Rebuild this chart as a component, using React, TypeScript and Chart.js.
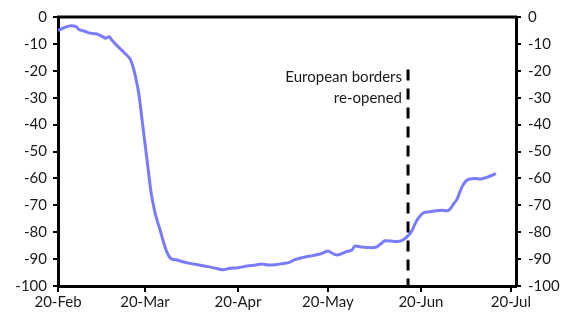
import React, { useEffect, useRef } from "react";
import { Chart, registerables } from "chart.js";

Chart.register(...registerables);

const tickDays = [0, 29, 60, 90, 121, 151];
const tickLabels = ["20-Feb", "20-Mar", "20-Apr", "20-May", "20-Jun", "20-Jul"];

const days = [0, 2, 4, 6, 7, 9, 10, 12, 13, 14, 15, 16, 17, 18, 20, 22, 24, 25, 26, 27, 28, 29, 30, 31, 32, 33, 34, 35, 36, 37, 38, 40, 41, 44, 47, 50, 53, 55, 57, 60, 63, 66, 68, 70, 73, 75, 77, 79, 82, 85, 87, 89, 90, 93, 96, 98, 99, 101, 103, 106, 108, 109, 111, 113, 115, 117, 118, 119, 120, 122, 124, 126, 128, 130, 131, 132, 133, 134, 135, 136, 137, 139, 141, 143, 144, 146];
const values = [-5, -4, -3.3, -3.6, -4.7, -5.3, -5.8, -6.2, -6.3, -6.8, -7.4, -7.9, -7.3, -8.6, -11, -13.2, -15.5, -18.5, -23, -29, -38, -47, -56, -65, -71, -75.5, -79, -83, -86.5, -89, -90, -90.4, -90.8, -91.6, -92.2, -92.8, -93.5, -94, -93.5, -93.2, -92.6, -92.2, -91.8, -92.2, -92, -91.6, -91.3, -90.2, -89.3, -88.7, -88.2, -87.4, -87, -88.5, -87.3, -86.6, -85.2, -85.5, -85.7, -85.6, -84, -83.2, -83.3, -83.5, -82.9, -81, -79.5, -77, -75, -72.7, -72.4, -72, -71.8, -72, -71, -69.3, -67.8, -65, -62.5, -61, -60.3, -60, -60.2, -59.6, -59.2, -58.2];

const yTicks = [0, -10, -20, -30, -40, -50, -60, -70, -80, -90, -100];
const borderDay = 116.7;
const borderTop = -19.5;
const annotationLines = ["European borders", "re-opened"];

const FONT = "Lato";

export default function App() {
  const ref = useRef<HTMLCanvasElement>(null);
  useEffect(() => {
    document.body.style.margin = "0";
    const canvas = ref.current!;
    const overlay = {
      id: "overlay",
      afterDatasetsDraw(chart: any) {
        const ctx = chart.ctx;
        const { left, right, top } = chart.chartArea;
        const x = chart.scales.x.getPixelForValue(borderDay);
        const yTop = chart.scales.y.getPixelForValue(borderTop);
        const yBot = chart.scales.y.getPixelForValue(-100);
        ctx.save();
        ctx.strokeStyle = "#000";
        ctx.lineWidth = 3;
        ctx.beginPath();
        ctx.moveTo(left - 1, top);
        ctx.lineTo(right + 1, top);
        ctx.stroke();
        ctx.setLineDash([11, 8]);
        ctx.beginPath();
        ctx.moveTo(x, yTop);
        ctx.lineTo(x, yBot);
        ctx.stroke();
        ctx.setLineDash([]);
        ctx.fillStyle = "#1a1a1a";
        ctx.font = `15px ${FONT}`;
        ctx.textAlign = "right";
        ctx.textBaseline = "middle";
        annotationLines.forEach((t, i) => ctx.fillText(t, x - 6, 77 + i * 21));
        ctx.restore();
      },
    };
    const tickFont = { family: FONT, size: 15 };
    const chart = new Chart(canvas, {
      type: "line",
      data: {
        datasets: [
          {
            data: days.map((d, i) => ({ x: d, y: values[i] })),
            borderColor: "#7b7bff",
            borderWidth: 3,
            pointRadius: 0,
            tension: 0.3,
            fill: false,
          },
        ],
      },
      options: {
        animation: false,
        responsive: false,
        maintainAspectRatio: false,
        layout: { padding: { top: 17, left: 0, right: 0, bottom: 0 } },
        plugins: { legend: { display: false }, tooltip: { enabled: false } },
        scales: {
          x: {
            type: "linear",
            min: 0,
            max: 152.7,
            afterBuildTicks: (s: any) => {
              s.ticks = tickDays.map((v) => ({ value: v }));
            },
            afterFit: (s: any) => {
              s.height = 32;
            },
            ticks: {
              autoSkip: false,
              maxRotation: 0,
              padding: 1,
              color: "#1a1a1a",
              font: tickFont,
              callback: (v: any) => tickLabels[tickDays.indexOf(Number(v))] ?? "",
            },
            grid: { drawOnChartArea: false, drawTicks: true, tickLength: 6, color: "#000", lineWidth: 2 },
            border: { display: true, color: "#000", width: 3 },
          },
          y: {
            position: "left",
            min: -100,
            max: 0,
            afterBuildTicks: (s: any) => {
              s.ticks = yTicks.map((v) => ({ value: v }));
            },
            afterFit: (s: any) => {
              s.width = 58;
            },
            ticks: { padding: 6, color: "#1a1a1a", font: tickFont },
            grid: { drawOnChartArea: false, drawTicks: true, tickLength: 5, color: "#000", lineWidth: 2 },
            border: { display: true, color: "#000", width: 3 },
          },
          y2: {
            position: "right",
            min: -100,
            max: 0,
            afterBuildTicks: (s: any) => {
              s.ticks = yTicks.map((v) => ({ value: v }));
            },
            afterFit: (s: any) => {
              s.width = 58;
            },
            ticks: { padding: 7, color: "#1a1a1a", font: tickFont },
            grid: { drawOnChartArea: false, drawTicks: true, tickLength: 5, color: "#000", lineWidth: 2 },
            border: { display: true, color: "#000", width: 3 },
          },
        },
      },
      plugins: [overlay],
    });
    return () => chart.destroy();
  }, []);
  return (
    <div style={{ position: "fixed", left: 0, top: 0, width: 574, height: 318, background: "#fff" }}>
      <canvas ref={ref} width={574} height={318} style={{ width: 574, height: 318 }} />
    </div>
  );
}
